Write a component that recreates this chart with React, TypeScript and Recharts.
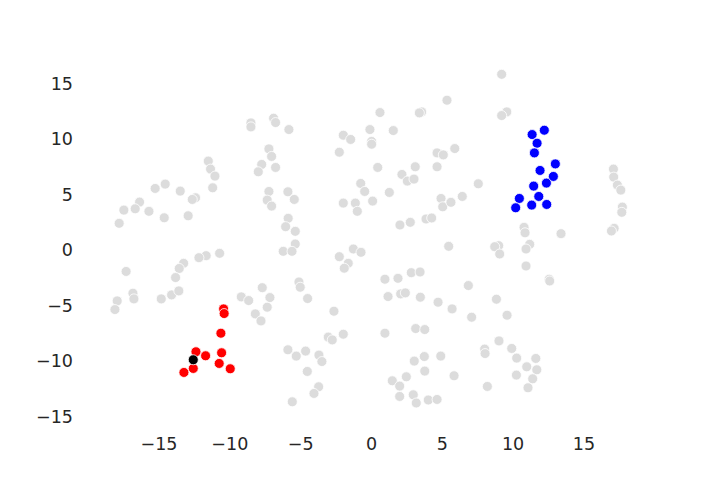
import React from 'react';
import { ScatterChart, Scatter, XAxis, YAxis } from 'recharts';

// [x, y] pairs
const grayPoints: [number, number][] = [
  [-8.51, 11.44], [-8.51, 11.08], [-6.91, 11.86], [-6.77, 11.47], [-5.83, 10.84], [-1.99, 10.33],
  [-1.47, 9.95], [-0.11, 10.84], [0.01, 9.77], [0.01, 9.52], [0.6, 12.37], [-2.27, 8.8],
  [-7.24, 9.1], [-7.05, 8.42], [-7.75, 7.7], [-7.99, 7.04], [-6.77, 7.43], [-11.52, 8.0],
  [-11.36, 7.28], [-11.05, 6.65], [-11.21, 5.6], [-14.56, 5.93], [-15.27, 5.54], [-13.5, 5.3],
  [-12.42, 4.7], [-12.65, 4.55], [-16.37, 4.31], [-16.68, 3.71], [-17.48, 3.59], [-15.71, 3.48],
  [-14.63, 2.9], [-12.94, 3.08], [-17.81, 2.4], [-7.24, 5.27], [-5.9, 5.24], [-7.36, 4.49],
  [-7.05, 3.95], [-5.45, 4.55], [-5.88, 2.85], [-6.06, 2.1], [-5.38, 1.68], [-5.38, 0.54],
  [-6.23, -0.12], [-5.61, -0.12], [-0.76, 5.99], [-0.48, 5.27], [-1.99, 4.22], [-1.14, 4.22],
  [-1.0, 3.48], [0.08, 4.4], [0.44, 7.43], [-1.28, 0.09], [-0.74, -0.21], [-2.27, -0.6],
  [-10.72, -0.3], [-11.67, -0.51], [-12.18, -0.69],
  [-13.26, -1.2], [-13.57, -1.66], [-13.83, -2.48], [-17.32, -1.93], [-16.84, -3.89], [-16.77, -4.4],
  [-17.95, -4.58], [-18.11, -5.36], [-14.84, -4.4], [-14.11, -4.04], [-13.6, -3.68], [-9.19, -4.22],
  [-8.67, -4.55], [-7.71, -3.39], [-7.17, -4.28], [-8.2, -5.75], [-7.8, -6.38], [-7.36, -5.15],
  [-5.12, -2.88], [-5.03, -3.35], [-4.51, -4.37], [-1.64, -1.2], [-1.92, -1.64], [-2.65, -5.51],
  [-3.05, -7.84], [-2.77, -8.09], [-1.99, -7.58], [-5.9, -8.98], [-5.31, -9.55], [-4.65, -9.1],
  [-3.71, -9.46], [-3.5, -10.04], [-4.53, -10.93], [-3.73, -12.31], [-4.06, -12.91], [-5.59, -13.66],
  [9.19, 15.81], [5.33, 13.48], [3.54, 12.43], [3.38, 12.34], [9.55, 12.43], [9.19, 12.1],
  [1.54, 10.75], [4.63, 8.74], [5.07, 8.56], [5.88, 9.13], [3.09, 7.49], [2.15, 6.8],
  [2.53, 6.2], [3.0, 6.38], [4.63, 7.49], [7.54, 5.96], [1.26, 5.18], [4.91, 4.64],
  [5.03, 3.89], [5.61, 4.29], [6.41, 4.82], [2.01, 2.25], [2.74, 2.49], [3.85, 2.79],
  [4.25, 2.88], [5.45, 0.33], [8.98, 0.39], [8.7, 0.3], [9.05, -0.36], [10.77, 2.04],
  [10.84, 1.55], [13.38, 1.47], [11.17, 0.51], [10.91, 0.09], [17.08, 7.28], [17.1, 6.56],
  [17.36, 5.84], [17.6, 5.39], [17.71, 3.86], [17.67, 3.39], [17.13, 1.95], [16.94, 1.71],
  [10.91, -1.44], [12.54, -2.63], [12.58, -2.79], [0.95, -2.63], [1.87, -2.55], [2.81, -2.04],
  [3.43, -1.98], [1.17, -4.19], [2.06, -3.95], [2.39, -3.86], [3.45, -4.25], [4.7, -4.7],
  [5.69, -5.3], [6.84, -3.2], [7.07, -6.05], [8.82, -4.43], [9.57, -5.87], [0.95, -7.49],
  [3.12, -7.07], [3.76, -7.16], [7.99, -8.92], [8.02, -9.32], [9.0, -8.18], [9.9, -8.86],
  [10.25, -9.73], [11.6, -9.76], [10.96, -10.51], [11.67, -10.78], [10.23, -11.26], [11.38, -11.59],
  [11.05, -12.4], [8.18, -12.28], [3.02, -10.0], [3.73, -9.59], [4.89, -9.55], [3.76, -10.9],
  [5.83, -11.32], [1.47, -11.77], [1.99, -12.25], [2.46, -11.41], [1.99, -13.18], [2.95, -13.03],
  [3.16, -13.77], [4.01, -13.5], [4.63, -13.45],
];

const redPoints: [number, number][] = [
  [-10.44, -5.3], [-10.4, -5.72], [-10.63, -7.49], [-12.39, -9.16], [-11.71, -9.52],
  [-10.58, -9.25], [-10.75, -10.21], [-9.97, -10.69], [-12.58, -10.66], [-13.24, -11.02],
];

const bluePoints: [number, number][] = [
  [12.2, 10.78], [11.34, 10.39], [11.69, 9.61], [11.5, 8.74], [12.98, 7.75], [11.9, 7.16],
  [12.84, 6.62], [12.35, 6.02], [11.45, 5.75], [11.81, 4.82], [10.44, 4.64], [11.31, 4.04],
  [12.37, 4.1], [10.18, 3.8],
];

const blackPoints: [number, number][] = [[-12.58, -9.88]];

const xTicks = [-15, -10, -5, 0, 5, 10, 15];
const yTicks = [-15, -10, -5, 0, 5, 10, 15];

const toData = (pts: [number, number][]) => pts.map(([x, y]) => ({ x, y }));

const fmt = (v: number) => (v < 0 ? '\u2212' + Math.abs(v) : String(v));

const makeShape = (fill: string) => (props: any) => (
  <circle cx={props.cx} cy={props.cy} r={5} fill={fill} stroke="#ffffff" strokeWidth={0.8} />
);

const tickStyle = { fontFamily: 'DejaVu Sans', fontSize: 17.5, fill: '#262626' };

export default function App() {
  return (
    <div style={{ position: 'absolute', left: 0, top: 0, width: 720, height: 480, background: '#fff' }}>
      <ScatterChart width={720} height={480} margin={{ top: 58, right: 72, bottom: 23, left: 30 }}>
        <XAxis
          type="number"
          dataKey="x"
          domain={[-19.87, 19.52]}
          ticks={xTicks}
          tickFormatter={fmt}
          axisLine={false}
          tickLine={false}
          tickSize={0}
          tickMargin={10.5}
          height={30}
          tick={tickStyle}
          allowDataOverflow
        />
        <YAxis
          type="number"
          dataKey="y"
          domain={[-15.93, 17.28]}
          ticks={yTicks}
          tickFormatter={fmt}
          axisLine={false}
          tickLine={false}
          tickSize={0}
          tickMargin={17}
          width={60}
          tick={tickStyle}
          allowDataOverflow
        />
        <Scatter data={toData(grayPoints)} shape={makeShape('#dcdcdc')} isAnimationActive={false} />
        <Scatter data={toData(redPoints)} shape={makeShape('#ff0000')} isAnimationActive={false} />
        <Scatter data={toData(bluePoints)} shape={makeShape('#0000ff')} isAnimationActive={false} />
        <Scatter data={toData(blackPoints)} shape={makeShape('#000000')} isAnimationActive={false} />
      </ScatterChart>
    </div>
  );
}
